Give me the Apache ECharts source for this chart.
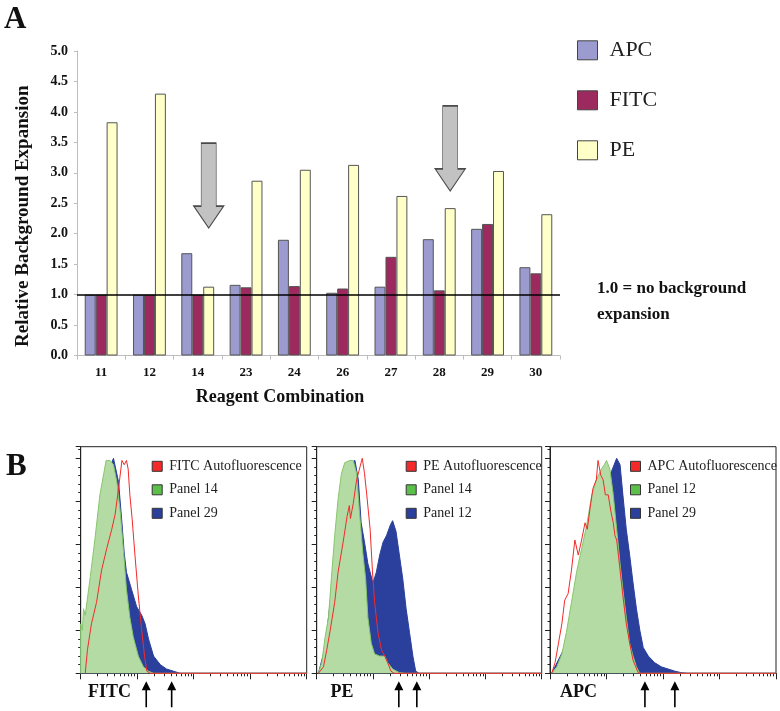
<!DOCTYPE html>
<html><head><meta charset="utf-8">
<script src="https://cdn.jsdelivr.net/npm/echarts@6/dist/echarts.min.js"></script>
<style>html,body{margin:0;padding:0;background:#fff}#c{width:780px;height:711px}</style>
</head><body><div id="c"></div>
<script>
// ---------- Panel A: bar chart data ----------
const categories = ['11','12','14','23','24','26','27','28','29','30'];
const apcValues  = [1.00,1.00,1.68,1.16,1.90,1.03,1.13,1.91,2.08,1.45];
const fitcValues = [1.00,1.00,1.00,1.12,1.14,1.10,1.62,1.07,2.16,1.35];
const peValues   = [3.83,4.30,1.13,2.87,3.05,3.13,2.62,2.42,3.03,2.32];
const referenceLevel = 1.0;
// highlighted combinations (grey arrows): [category, arrow-centre value]
const arrowMarks = [['14', 2.79], ['28', 3.40]];

// ---------- Panel B: histograms, [log10 fluorescence, % of max] ----------
const fitcAuto    = [[0.08,0],[0.12,11],[0.19,23],[0.28,33],[0.37,48],[0.46,58],[0.55,67],[0.61,74],[0.67,86],[0.73,99],[0.77,97],[0.81,99],[0.84,95],[0.87,83],[0.91,72],[0.96,55],[1.02,36],[1.08,20],[1.13,8],[1.17,1],[1.23,0],[4,0]];
const fitcPanel14 = [[0,0],[0,23],[0.03,20],[0.05,30],[0.08,27],[0.17,45],[0.25,62],[0.34,83],[0.45,99],[0.52,99],[0.58,97],[0.64,89],[0.70,75],[0.76,56],[0.81,39],[0.87,26],[0.93,17],[1.02,8],[1.11,3],[1.20,1],[1.29,0],[4,0]];
const fitcPanel29 = [[0,0],[0,15],[0.17,38],[0.34,78],[0.47,99],[0.52,96],[0.58,100],[0.67,89],[0.73,70],[0.77,56],[0.81,47],[0.90,39],[0.99,31],[1.08,27],[1.14,23],[1.20,16],[1.29,8],[1.41,4],[1.52,2],[1.64,1],[1.76,0],[4,0]];

const peAuto      = [[0.03,0],[0.12,3],[0.18,11],[0.24,20],[0.32,33],[0.38,47],[0.47,61],[0.54,73],[0.58,78],[0.60,72],[0.65,79],[0.71,90],[0.76,95],[0.81,100],[0.85,93],[0.89,83],[0.92,75],[0.95,67],[0.99,48],[1.03,33],[1.09,19],[1.15,11],[1.21,8],[1.26,5],[1.32,1],[1.38,0],[4,0]];
const pePanel14   = [[0.03,0],[0.09,5],[0.15,17],[0.21,26],[0.26,44],[0.32,64],[0.38,81],[0.44,93],[0.50,98],[0.59,99],[0.65,99],[0.71,93],[0.76,75],[0.82,56],[0.87,44],[0.91,26],[0.97,14],[1.03,9],[1.12,8],[1.21,8],[1.26,5],[1.35,2],[1.47,0.3],[1.59,0],[4,0]];
const pePanel12   = [[0.03,0],[0.15,12],[0.26,38],[0.38,75],[0.50,95],[0.56,97],[0.68,99],[0.74,90],[0.79,70],[0.85,61],[0.91,51],[1.00,42],[1.06,47],[1.12,55],[1.18,61],[1.24,64],[1.31,69],[1.35,71],[1.41,66],[1.47,55],[1.53,44],[1.59,30],[1.65,19],[1.71,8],[1.76,1],[1.82,0],[4,0]];

const apcAuto     = [[0.03,0],[0.09,5],[0.15,14],[0.21,23],[0.26,34],[0.32,37],[0.38,48],[0.44,62],[0.50,55],[0.56,62],[0.62,70],[0.66,67],[0.71,77],[0.76,86],[0.82,90],[0.85,99],[0.90,92],[0.94,90],[0.98,83],[1.03,83],[1.08,75],[1.12,70],[1.15,64],[1.18,62],[1.24,48],[1.29,36],[1.35,23],[1.41,14],[1.47,6],[1.56,0.3],[1.62,0],[4,0]];
const apcPanel12  = [[0.03,0],[0.12,3],[0.21,9],[0.29,19],[0.38,33],[0.47,47],[0.56,58],[0.65,69],[0.74,83],[0.82,90],[0.91,95],[0.96,97],[1.00,99],[1.06,95],[1.12,83],[1.18,67],[1.24,51],[1.29,39],[1.35,26],[1.41,14],[1.47,8],[1.53,3],[1.59,0],[4,0]];
const apcPanel29  = [[0.03,0],[0.26,12],[0.56,50],[0.85,82],[1.09,94],[1.18,100],[1.24,97],[1.29,83],[1.35,67],[1.41,55],[1.47,42],[1.53,30],[1.59,20],[1.65,12],[1.74,8],[1.85,5],[1.97,3],[2.09,2],[2.21,1],[2.32,0.3],[2.44,0],[4,0]];

// gate markers (black arrows) in log10 units
const fitcGates = [1.16, 1.61];
const peGates   = [1.46, 1.78];
const apcGates  = [1.68, 2.21];

const panelTitles = ['FITC','PE','APC'];
const panelLegends = [
  ['FITC Autofluorescence','Panel 14','Panel 29'],
  ['PE Autofluorescence','Panel 14','Panel 12'],
  ['APC Autofluorescence','Panel 12','Panel 29']
];
const panelSeries = [
  [fitcAuto, fitcPanel14, fitcPanel29],
  [peAuto, pePanel14, pePanel12],
  [apcAuto, apcPanel12, apcPanel29]
];
const panelGates = [fitcGates, peGates, apcGates];
const minorDigits = [2,3,4,5,6,7,8,9];

// ---------- styling / layout ----------
const SERIF = "'Liberation Serif','Times New Roman',serif";
const RED = '#f42a2a', BLUE = '#2b3f9c', GREEN_LINE = '#86c66c', GREEN_FILL = '#b4dba4', GREEN_KEY = '#5cbf4a';
const panelLeft = [80.7, 316.7, 550];
const panelWidth = [226, 225, 226];
const panelTop = 446.7, panelHeight = 226.6;
const legendPos = [[151.7,459.3],[405.7,459.3],[630,459.3]];
const titleLeft = [88, 330.5, 560];

const minorLogTicks = [];
for (let d = 0; d < 4; d++) minorDigits.forEach(k => minorLogTicks.push(d + Math.log10(k)));

const grids = [{left:77, top:51, width:483, height:304.5, outerBoundsMode:'none', containLabel:false}];
const xAxes = [{
  type:'category', data:categories, gridIndex:0,
  axisLine:{lineStyle:{color:'#bdbdbd'}},
  axisTick:{show:true, length:4, lineStyle:{color:'#bdbdbd'}},
  axisLabel:{fontFamily:SERIF, fontWeight:'bold', fontSize:13, color:'#111', margin:11},
  name:'Reagent Combination', nameLocation:'middle', nameGap:33,
  nameTextStyle:{fontFamily:SERIF, fontWeight:'bold', fontSize:18, color:'#111', padding:[0,77,0,0]}
}];
const yAxes = [{
  type:'value', gridIndex:0, min:0, max:5, interval:0.5,
  axisLine:{show:true, lineStyle:{color:'#bdbdbd'}},
  axisTick:{show:true, length:3, lineStyle:{color:'#bdbdbd'}},
  splitLine:{show:false},
  axisLabel:{fontFamily:SERIF, fontWeight:'bold', fontSize:14, color:'#111', margin:9, formatter:v=>v.toFixed(1)},
  name:'Relative Background Expansion', nameLocation:'middle', nameGap:44,
  nameTextStyle:{fontFamily:SERIF, fontWeight:'bold', fontSize:19, color:'#111', padding:[0,26,0,0]}
}];

const barStyle = c => ({color:c, borderColor:'#555', borderWidth:1});
const series = [
  {type:'bar', name:'APC', data:apcValues, xAxisIndex:0, yAxisIndex:0, itemStyle:barStyle('#9b9bd0'), barGap:'0%', barCategoryGap:'32%', silent:true},
  {type:'bar', name:'FITC', data:fitcValues, xAxisIndex:0, yAxisIndex:0, itemStyle:barStyle('#9c2a5e'), barGap:'0%', barCategoryGap:'32%', silent:true},
  {type:'bar', name:'PE', data:peValues, xAxisIndex:0, yAxisIndex:0, itemStyle:barStyle('#ffffc8'), barGap:'0%', barCategoryGap:'32%', silent:true,
   markLine:{silent:true, symbol:'none', label:{show:false}, lineStyle:{color:'#000', width:1.5, type:'solid'}, data:[{yAxis:referenceLevel}]},
   markPoint:{silent:true, symbol:'path://M7.5,0 L22.5,0 L22.5,63 L30,63 L15,85 L0,63 L7.5,63 Z', symbolSize:[30,85],
     itemStyle:{color:'#c2c2c2', borderColor:'#4a4a4a', borderWidth:1}, label:{show:false},
     data:arrowMarks.map(a=>({coord:a}))}
  }
];

const legends = [{
  data:['APC','FITC','PE'], orient:'vertical', left:577, top:39.3, padding:0,
  itemWidth:20, itemHeight:19, itemGap:28, icon:'rect', selectedMode:false,
  itemStyle:{borderColor:'#444', borderWidth:1},
  textStyle:{fontFamily:SERIF, fontSize:22, color:'#222', padding:[0,0,0,7]}
}];

const graphics = [
  {type:'text', left:4, top:4, style:{text:'A', font:'bold 31px '+SERIF, fill:'#111'}},
  {type:'text', left:6, top:451, style:{text:'B', font:'bold 31px '+SERIF, fill:'#111'}},
  {type:'text', left:597, top:276, style:{text:'1.0 = no background\nexpansion', font:'bold 17px '+SERIF, fill:'#111', lineHeight:26}}
];

const panelKeys = ['fitc','pe','apc'];
for (let p = 0; p < 3; p++) {
  const gi = p + 1;
  grids.push({left:panelLeft[p], top:panelTop, width:panelWidth[p], height:panelHeight, show:true, borderColor:'#222', borderWidth:1, outerBoundsMode:'none', containLabel:false});
  xAxes.push({type:'value', gridIndex:gi, min:0, max:4, position:'bottom',
    axisLine:{lineStyle:{color:'#222'}}, axisLabel:{show:false}, splitLine:{show:false},
    axisTick:{show:true, length:3, customValues:minorLogTicks, lineStyle:{color:'#222'}}});
  xAxes.push({type:'value', gridIndex:gi, min:0, max:4, interval:1, position:'bottom',
    axisLine:{show:false}, axisLabel:{show:false}, splitLine:{show:false},
    axisTick:{show:true, length:6, lineStyle:{color:'#222'}}});
  yAxes.push({type:'value', gridIndex:gi, min:0, max:105.4, interval:20,
    axisLine:{show:true, lineStyle:{color:'#222'}}, axisLabel:{show:false}, splitLine:{show:false},
    axisTick:{show:true, length:5, lineStyle:{color:'#222'}},
    minorTick:{show:true, splitNumber:5, length:2.5, lineStyle:{color:'#222'}}});
  const xi = 1 + 2*p, yi = gi;
  const names = panelLegends[p].map(n => panelKeys[p] + '|' + n);
  const [auto, s1, s2] = panelSeries[p];
  // order: blue (behind), green, red outline on top
  series.push({type:'line', name:names[2], data:s2, xAxisIndex:xi, yAxisIndex:yi, symbol:'none', clip:false, silent:true,
    itemStyle:{color:BLUE}, lineStyle:{color:BLUE, width:1}, areaStyle:{color:BLUE, opacity:1}, z:2});
  series.push({type:'line', name:names[1], data:s1, xAxisIndex:xi, yAxisIndex:yi, symbol:'none', clip:false, silent:true,
    itemStyle:{color:GREEN_KEY}, lineStyle:{color:GREEN_LINE, width:1}, areaStyle:{color:GREEN_FILL, opacity:1}, z:3});
  series.push({type:'line', name:names[0], data:auto, xAxisIndex:xi, yAxisIndex:yi, symbol:'none', clip:false, silent:true,
    itemStyle:{color:RED}, lineStyle:{color:RED, width:1}, z:4,
    markPoint:{silent:true, symbol:'path://M4.5,0 L9,9 L5.3,9 L5.3,26 L3.7,26 L3.7,9 L0,9 Z', symbolSize:[9,26], symbolOffset:[0,21],
      itemStyle:{color:'#000'}, label:{show:false}, data:panelGates[p].map(g=>({coord:[g,0]}))}});
  legends.push({data:[names[0], names[1], names[2]], orient:'vertical', left:legendPos[p][0], top:legendPos[p][1], padding:0,
    itemWidth:10, itemHeight:10, itemGap:9.5, icon:'rect', selectedMode:false,
    formatter:n=>n.split('|')[1],
    itemStyle:{borderColor:'#333', borderWidth:1},
    textStyle:{fontFamily:SERIF, fontSize:14, color:'#222', padding:[0,0,0,2]}});
  graphics.push({type:'text', left:titleLeft[p], top:683, style:{text:panelTitles[p], font:'bold 18px '+SERIF, fill:'#111'}});
}

const chart = echarts.init(document.getElementById('c'), null, {renderer:'canvas'});
chart.setOption({
  animation:false,
  backgroundColor:'#fff',
  grid:grids, xAxis:xAxes, yAxis:yAxes, legend:legends, series:series, graphic:graphics
});
</script></body></html>
